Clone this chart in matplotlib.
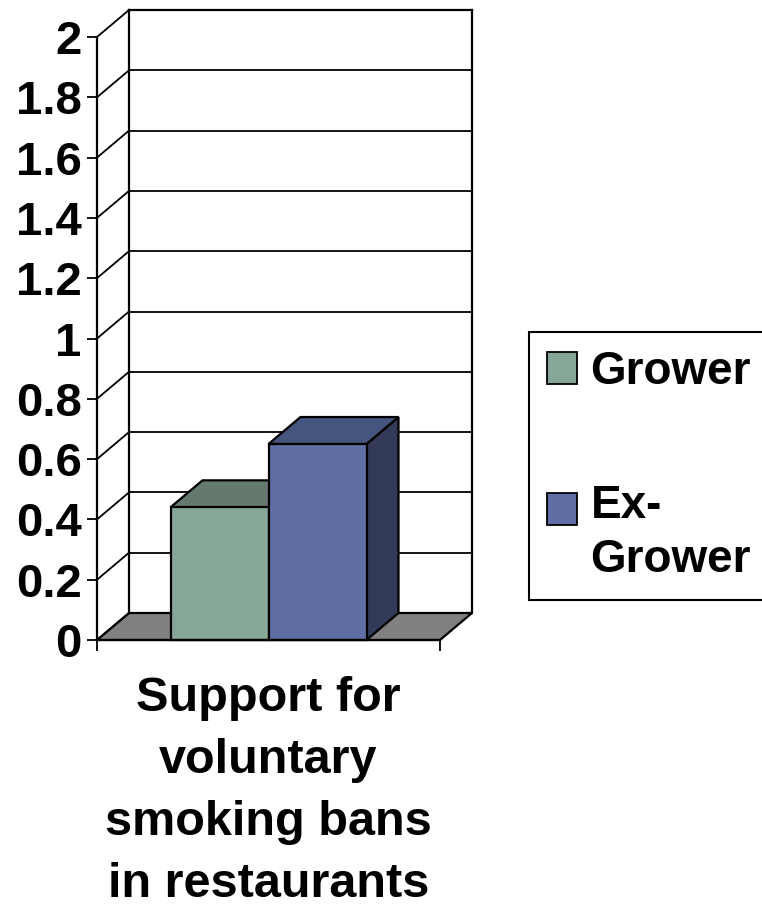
import matplotlib
matplotlib.use("Agg")
import matplotlib.pyplot as plt
from matplotlib.patches import Polygon, Patch, Rectangle
from matplotlib.legend_handler import HandlerPatch
import numpy as np

plt.rcParams["font.family"] = ["Liberation Sans", "DejaVu Sans"]
plt.rcParams["font.weight"] = "bold"

category = "Support for\nvoluntary\nsmoking bans\nin restaurants"
series = ["Grower", "Ex-\nGrower"]
values = [0.44, 0.65]
front_colors = ["#86A698", "#5F6FA5"]
top_colors = ["#647A6E", "#46557E"]
side_colors = ["#4F6157", "#323A58"]
yticks = np.arange(0, 2.01, 0.2)
ytick_labels = ["0", "0.2", "0.4", "0.6", "0.8", "1", "1.2", "1.4", "1.6", "1.8", "2"]

W, H = 762, 908
fig = plt.figure(figsize=(W / 100, H / 100), dpi=100)
# front plane of the 3d box, in pixels
left, right, bottom, top = 97, 440, 640, 37
ax = fig.add_axes([left / W, 1 - bottom / H, (right - left) / W, (bottom - top) / H])
ax.set_xlim(0, 1)
ax.set_ylim(0, 2)

# depth offset (pixels -> data units)
dx = 32 / (right - left)
dy = 27 / ((bottom - top) / 2)

lw = 1.6
# floor
ax.add_patch(Polygon([(0, 0), (1, 0), (1 + dx, dy), (dx, dy)], closed=True,
                     facecolor="#808080", edgecolor="black", lw=lw, clip_on=False, zorder=1))
# back wall gridlines + side wall diagonals
for v in yticks:
    ax.plot([dx, 1 + dx], [v + dy, v + dy], color="black", lw=1.3, clip_on=False, zorder=2)
    ax.plot([0, dx], [v, v + dy], color="black", lw=1.3, clip_on=False, zorder=2)
ax.plot([dx, dx], [dy, 2 + dy], color="black", lw=lw, clip_on=False, zorder=2)
ax.plot([1 + dx, 1 + dx], [dy, 2 + dy], color="black", lw=lw, clip_on=False, zorder=2)
ax.plot([dx, 1 + dx], [2 + dy, 2 + dy], color="black", lw=lw, clip_on=False, zorder=2)

# bars (gap width 150%)
gap = 1.5
bw = 1 / (len(values) + gap)
x0 = 0.5 - bw * len(values) / 2
for i, v in enumerate(values):
    a = x0 + i * bw
    b = a + bw
    ax.add_patch(Polygon([(b, 0), (b, v), (b + dx, v + dy), (b + dx, dy)], closed=True,
                         facecolor=side_colors[i], edgecolor="black", lw=lw, clip_on=False, zorder=3 + i))
    ax.add_patch(Polygon([(a, v), (b, v), (b + dx, v + dy), (a + dx, v + dy)], closed=True,
                         facecolor=top_colors[i], edgecolor="black", lw=lw, clip_on=False, zorder=3 + i))
    ax.add_patch(Polygon([(a, 0), (b, 0), (b, v), (a, v)], closed=True,
                         facecolor=front_colors[i], edgecolor="black", lw=lw, clip_on=False, zorder=3 + i))

for s in ["top", "right"]:
    ax.spines[s].set_visible(False)
for s in ["left", "bottom"]:
    ax.spines[s].set_linewidth(lw)
    ax.spines[s].set_zorder(10)
ax.set_yticks(yticks)
ax.set_yticklabels(ytick_labels)
ax.set_xticks([0, 1])
ax.set_xticklabels(["", ""])
ax.tick_params(axis="y", length=7, width=1.3, pad=4, labelsize=34)
ax.tick_params(axis="x", length=8, width=1.3)
ax.patch.set_visible(False)

ax.text(0.5, -0.06, category, transform=ax.get_xaxis_transform(), ha="center", va="top",
        fontsize=35, fontweight="bold", linespacing=1.48)

# legend: square sits next to the first line of a wrapped label
leg_fs = 33


def square_first_line(legend, orig_handle, xdescent, ydescent, width, height, fontsize):
    n = n_lines[id(orig_handle)]
    return Rectangle((-xdescent, -ydescent + (n - 1) * 0.55 * fontsize), width, height)


handles = [Patch(facecolor=front_colors[i], edgecolor="black", lw=1.3) for i in range(len(series))]
n_lines = {id(h): lab.count("\n") + 1 for h, lab in zip(handles, series)}
hmap = {h: HandlerPatch(patch_func=square_first_line) for h in handles}
leg = fig.legend(handles, series, loc="upper left", bbox_to_anchor=(529 / W, 1 - 332 / H),
                 fontsize=leg_fs, frameon=True, fancybox=False, edgecolor="black", framealpha=1,
                 handlelength=0.64, handleheight=0.7, handletextpad=0.3, labelspacing=1.95,
                 borderpad=0.4, borderaxespad=0, handler_map=hmap)
leg.get_frame().set_linewidth(1.5)
for t in leg.get_texts():
    t.set_linespacing(1.3)

fig.savefig("out.png", dpi=100)
